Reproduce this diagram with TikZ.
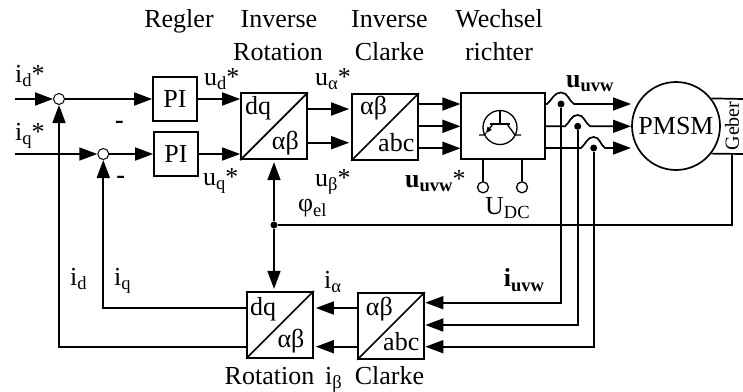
\documentclass[tikz,border=0pt]{standalone}
\usepackage{fontspec}
\setmainfont{Liberation Serif}
\usetikzlibrary{arrows.meta}
\newcommand{\gross}{\fontsize{26}{30}\selectfont}
\newcommand{\tief}[1]{\raisebox{-4.5pt}{\fontsize{18.5}{20}\selectfont #1}}
\tikzset{
   linie/.style={line width=1.7pt},
   pfeil/.style={line width=1.7pt,-{Triangle[length=18pt,width=13pt]}},
   txt/.style={inner sep=0pt,anchor=base west,font=\gross},
   titel/.style={inner sep=0pt,anchor=base,font=\gross},
   block/.style={draw,line width=1.7pt,minimum size=44pt,inner sep=0pt,font=\gross},
   wandler/.style={draw,line width=1.7pt,minimum size=66pt,inner sep=0pt},
   summe/.style={draw,circle,fill=white,line width=1pt,minimum size=11pt,inner sep=0pt},
   klemme/.style={draw,circle,fill=white,line width=1.3pt,minimum size=11pt,inner sep=0pt},
   punkt/.style={circle,fill=black,minimum size=7pt,inner sep=0pt}
}
\begin{document}
\begin{tikzpicture}[x=1pt,y=-1pt]
   \useasboundingbox (0,0) rectangle (743,391);

   % Titel
   \node[titel] (tregler) at (179,27) {Regler};
   \node[titel] (tinv) at (279,27) {Inverse};
   \node[titel] (trot) at (278,60) {Rotation};
   \node[titel] (tinvb) at (389.5,27) {Inverse};
   \node[titel] (tclarke) at (389.5,60) {Clarke};
   \node[titel] (twr) at (499,27) {Wechsel};
   \node[titel] (trichter) at (499,60) {richter};
   \node[titel] (trotu) at (269.5,384) {Rotation};
   \node[titel] (tclarkeu) at (389.5,384) {Clarke};

   % Bloecke
   \node[summe] (sumd) at (59,99) {};
   \node[summe] (sumq) at (103.3,154) {};
   \node[block] (pid) at (175,99) {PI};
   \node[block] (piq) at (176,154) {PI};
   \node[wandler] (dqinv) at (274,126.3) {};
   \node[wandler] (clarkeinv) at (385,127) {};
   \node[wandler,minimum width=83.4pt] (wr) at (503,126.3) {};
   \node[wandler] (dqrot) at (280,324.7) {};
   \node[wandler] (clarkerot) at (391,326) {};
   \node[draw,circle,line width=1.7pt,minimum size=88pt,inner sep=0pt,font=\gross] (pmsm) at (676,126) {PMSM};
   \node[inner sep=0pt,rotate=90,font=\fontsize{20}{22}\selectfont] (geber) at (732,126) {Geber};

   \draw[linie] (dqinv.south west) -- (dqinv.north east);
   \draw[linie] (clarkeinv.south west) -- (clarkeinv.north east);
   \draw[linie] (dqrot.south west) -- (dqrot.north east);
   \draw[linie] (clarkerot.south west) -- (clarkerot.north east);

   \node[txt] (ldqa) at (245,114) {dq};
   \node[txt] (laba) at (271.7,149) {αβ};
   \node[txt] (labb) at (360,114) {αβ};
   \node[txt] (labc) at (378,151.7) {abc};
   \node[txt] (ldqb) at (250,315) {dq};
   \node[txt] (labd) at (277.3,347.7) {αβ};
   \node[txt] (labe) at (365.7,315) {αβ};
   \node[txt] (labf) at (383,350) {abc};

   % Transistor
   \draw[line width=1.3pt] (500,127.5) circle(17);
   \draw[line width=1.7pt] (490,124) -- (510,124);
   \draw[line width=1.3pt] (500,111) -- (500,124);
   \draw[line width=1.3pt] (507,124) -- (515,135) -- (521,135);
   \draw[line width=1.3pt,-{Triangle[length=6pt,width=5pt]}] (493,124) -- (486,133);
   \draw[line width=1.3pt] (486,133) -- (484,135) -- (479,135);

   % Sollwerte
   \coordinate (idin) at (15,99);
   \coordinate (iqin) at (15,154);
   \draw[pfeil] (idin) -- (sumd.west);
   \draw[pfeil] (iqin) -- (sumq.west);
   \draw[pfeil] (sumd.east) -- (pid.west);
   \draw[pfeil] (sumq.east) -- (piq.west);
   \draw[pfeil] (pid.east) -- ([yshift=27.3pt]dqinv.west);
   \draw[pfeil] (piq.east) -- ([yshift=-27.7pt]dqinv.west);
   \draw[pfeil,shorten >=2pt] ([yshift=17.3pt]dqinv.east) -- ([yshift=18pt]clarkeinv.west);
   \draw[pfeil,shorten >=2pt] ([yshift=-16.4pt]dqinv.east) -- ([yshift=-15.7pt]clarkeinv.west);
   \draw[pfeil] ([yshift=23pt]clarkeinv.east) -- ([yshift=22.3pt]wr.west);
   \draw[pfeil] ([yshift=0.7pt]clarkeinv.east) -- (wr.west);
   \draw[pfeil] ([yshift=-21.3pt]clarkeinv.east) -- ([yshift=-22pt]wr.west);

   % Klemmen
   \node[klemme] (dcp) at (483,187.3) {};
   \node[klemme] (dcn) at (522,187.3) {};
   \draw[line width=1.3pt] (dcp.north) -- (dcp.north |- wr.south);
   \draw[line width=1.3pt] (dcn.north) -- (dcn.north |- wr.south);

   % Motorleitungen
   \coordinate (mu) at (631,104);
   \coordinate (mv) at (631,126.3);
   \coordinate (mw) at (631,148);
   \draw[pfeil] ([yshift=22.3pt]wr.east) -- (547,104) to[out=40,in=180] (561,92.5) to[out=0,in=145] (574,104) -- (mu);
   \draw[pfeil] (wr.east) -- (565,126.3) to[out=40,in=180] (577.7,115) to[out=0,in=145] (590,126.3) -- (mv);
   \draw[pfeil] ([yshift=-21.7pt]wr.east) -- (581,148) to[out=40,in=180] (593.7,137) to[out=0,in=145] (605,148) -- (mw);

   \node[punkt] (du) at (561,104) {};
   \node[punkt] (dv) at (577.7,126.3) {};
   \node[punkt] (dw) at (593.7,148) {};
   \draw[pfeil,shorten >=0.5pt] (du) |- ([yshift=23.3pt]clarkerot.east);
   \draw[pfeil,shorten >=0.5pt] (dv) |- ([yshift=1pt]clarkerot.east);
   \draw[pfeil,shorten >=0.5pt] (dw) |- ([yshift=-20.7pt]clarkerot.east);

   % Rueckfuehrung
   \draw[pfeil,shorten >=2pt] ([yshift=18pt]clarkerot.west) -- ([yshift=16.7pt]dqrot.east);
   \draw[pfeil,shorten >=2pt] ([yshift=-20.7pt]clarkerot.west) -- ([yshift=-22pt]dqrot.east);
   \draw[pfeil] ([yshift=16.7pt]dqrot.west) -| (sumq.south);
   \draw[pfeil] ([yshift=-22pt]dqrot.west) -| (sumd.south);

   % Geber
   \coordinate (gebo) at (743,99);
   \coordinate (gebu) at (743,154);
   \coordinate (gebf) at (732,154);
   \draw[linie] (pmsm.38) -- (gebo);
   \draw[linie] (pmsm.-38) -- (gebu);
   \node[punkt] (dphi) at (274,225) {};
   \draw[linie] (gebf) |- (dphi);
   \draw[pfeil,shorten >=2pt] (dphi) -- (dqinv.south);
   \draw[pfeil,shorten >=2pt] (dphi) -- (dqrot.north -| dphi);

   % Beschriftung
   \node[txt] (lid) at (15,82) {i\tief{d}*};
   \node[txt] (liq) at (15,140) {i\tief{q}*};
   \node[inner sep=0pt,font=\gross\bfseries] (lma) at (119.5,125) {-};
   \node[inner sep=0pt,font=\gross\bfseries] (lmb) at (120.7,180) {-};
   \node[txt] (lud) at (204,85) {u\tief{d}*};
   \node[txt] (luq) at (203,185) {u\tief{q}*};
   \node[txt] (lua) at (315,85) {u\tief{α}*};
   \node[txt] (lub) at (315,186) {u\tief{β}*};
   \node[txt] (lphi) at (298,211.7) {φ\tief{el}};
   \node[txt] (luvws) at (405,187) {\textbf{u\tief{\bfseries uvw}}*};
   \node[txt] (ludc) at (485,214) {U\tief{DC}};
   \node[txt] (luvw) at (566,87) {\textbf{u\tief{\bfseries uvw}}};
   \node[txt] (livw) at (503.7,286.7) {\textbf{i\tief{\bfseries uvw}}};
   \node[txt] (lidi) at (70,285) {i\tief{d}};
   \node[txt] (liqi) at (114,285) {i\tief{q}};
   \node[txt] (lia) at (324,288) {i\tief{α}};
   \node[txt] (lib) at (325,384) {i\tief{β}};
\end{tikzpicture}
\end{document}
